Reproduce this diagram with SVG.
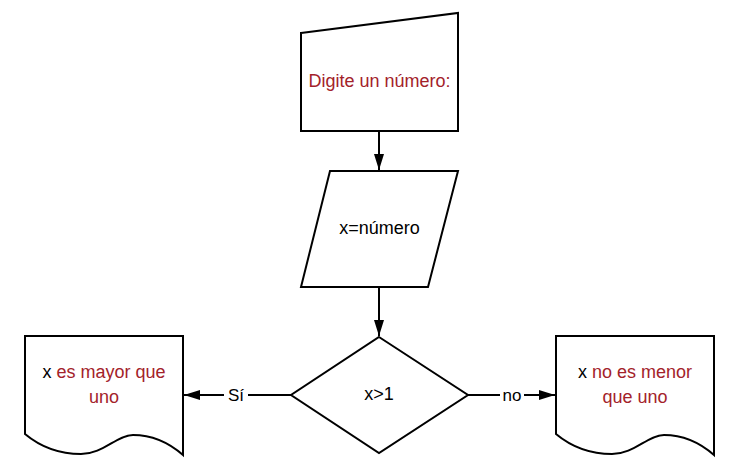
<svg xmlns="http://www.w3.org/2000/svg" width="747" height="473" viewBox="0 0 747 473">
<style>
.shape{fill:#ffffff;stroke:#000000;stroke-width:2;stroke-linejoin:miter}
.edge{fill:none;stroke:#000000;stroke-width:2}
.t{font-family:"Liberation Sans",Arial,sans-serif;font-size:18px;text-anchor:middle;fill:#000000}
.r{fill:#a3222a}
.lbl{font-family:"Liberation Sans",Arial,sans-serif;font-size:17px;text-anchor:middle;fill:#000000}
</style>
<defs>
<marker id="arr" viewBox="0 0 16 10" refX="16" refY="5" markerWidth="16" markerHeight="10" markerUnits="userSpaceOnUse" orient="auto">
<path d="M0,0 L16,5 L0,10 Z" fill="#000000"/>
</marker>
<path id="doc" d="M0,0 H158 V119 C142,105 126,99 108,99 C92,99 78,118 56,118 C30,118 12,108 0,98 Z"/>
</defs>
<rect width="747" height="473" fill="#ffffff"/>
<g id="connectors">
<line class="edge" x1="379" y1="131" x2="379" y2="170" marker-end="url(#arr)"/>
<line class="edge" x1="379" y1="287" x2="379" y2="336" marker-end="url(#arr)"/>
<line class="edge" x1="291" y1="395" x2="184" y2="395" marker-end="url(#arr)"/>
<line class="edge" x1="468" y1="395" x2="555" y2="395" marker-end="url(#arr)"/>
<rect x="224" y="384" width="24" height="20" fill="#ffffff"/>
<text class="lbl" x="236" y="401">Sí</text>
<rect x="500" y="384" width="24" height="20" fill="#ffffff"/>
<text class="lbl" x="512" y="401">no</text>
</g>
<g id="input">
<polygon class="shape" points="301,33 458,13 458,131 301,131"/>
<text class="t r" x="379.5" y="87">Digite un número:</text>
</g>
<g id="assign">
<polygon class="shape" points="330,171 458,171 428,287 301,287"/>
<text class="t" x="379.5" y="234">x=número</text>
</g>
<g id="decision">
<polygon class="shape" points="379,337 468,395 379,453 291,395"/>
<text class="t" x="379" y="400">x&gt;1</text>
</g>
<g id="yes-doc">
<use href="#doc" class="shape" x="25" y="336"/>
<text class="t" x="104" y="378">x <tspan class="r">es mayor que</tspan></text>
<text class="t r" x="104" y="403">uno</text>
</g>
<g id="no-doc">
<use href="#doc" class="shape" x="556" y="336"/>
<text class="t" x="635" y="378">x <tspan class="r">no es menor</tspan></text>
<text class="t r" x="635" y="403">que uno</text>
</g>
</svg>
